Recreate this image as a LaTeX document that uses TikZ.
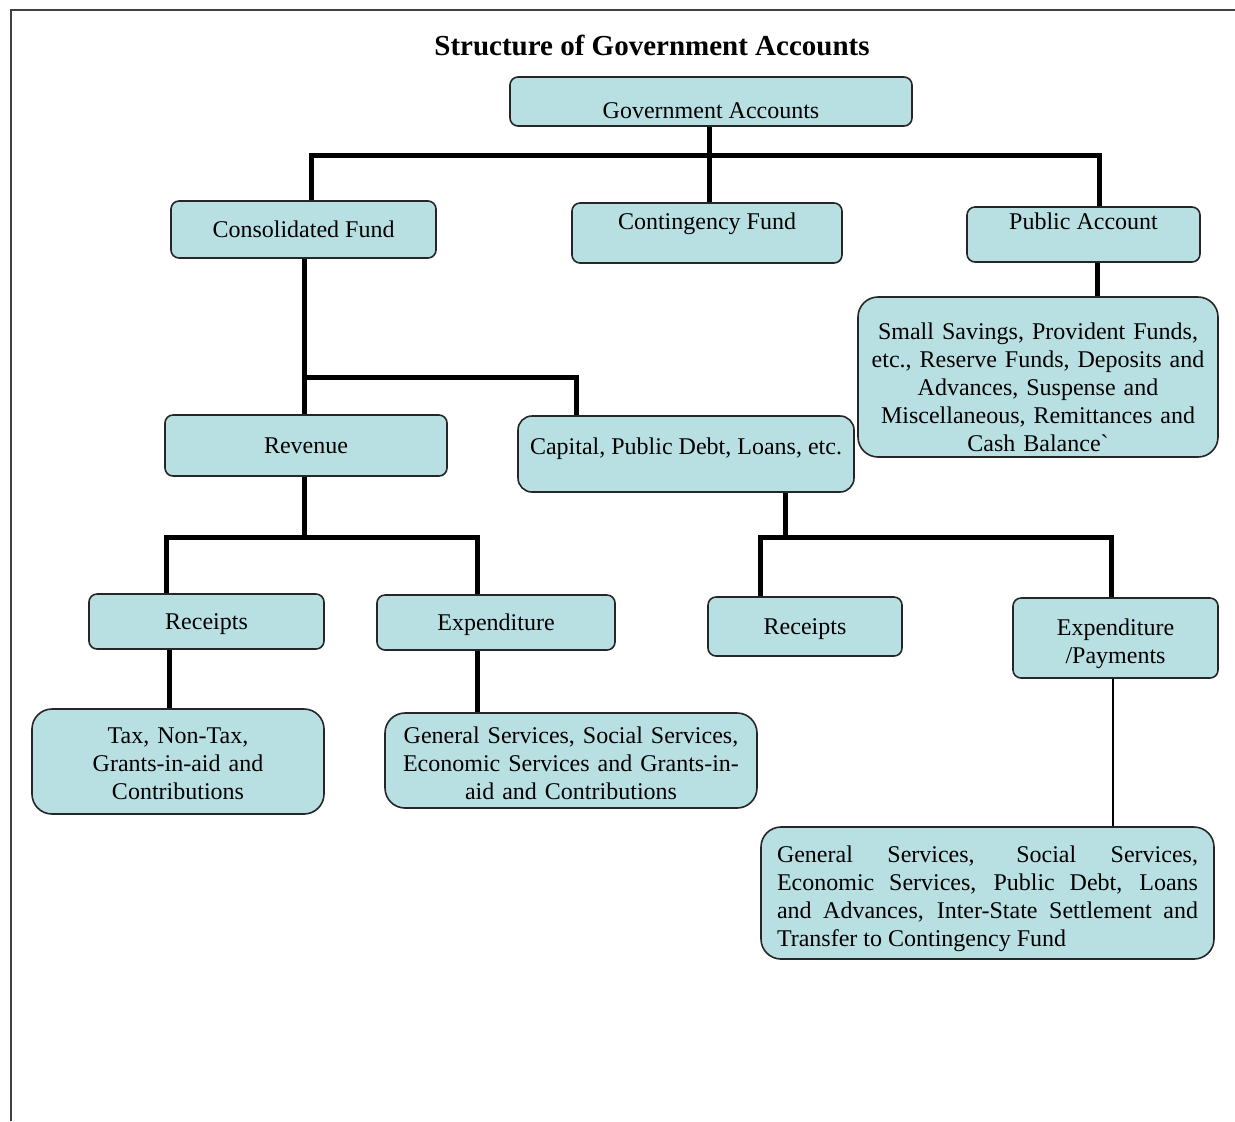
\documentclass[tikz,border=0pt]{standalone}
\usepackage{fontspec}
\setmainfont{Liberation Serif}
\usepackage{xcolor}
\definecolor{boxfill}{RGB}{184,223,226}

\begin{document}
\begin{tikzpicture}[x=0.5pt, y=-0.5pt,
  font=\fontsize{12}{14}\selectfont,
  box/.style={draw=black!85, line width=0.8pt, fill=boxfill, rounded corners=4pt, inner sep=0pt},
  one/.style={box, text height=8pt, text depth=0pt},
  big/.style={box, rounded corners=10pt},
  boxsize/.style 2 args={minimum width=#1*0.5pt, minimum height=#2*0.5pt},
  link/.style={line width=2.5pt, black},
  thinlink/.style={line width=0.6pt, black}]
\useasboundingbox (0,0) rectangle (1235,1121);
%%%%% Frame and title %%%%%
\draw[line width=1pt, black!75] (11,1121) -- (11,10) -- (1235,10);
\node[font=\bfseries\fontsize{14.5}{17}\selectfont] (title) at (652,45) {Structure of Government Accounts};
%%%%% Boxes %%%%%
\node[one, boxsize={402}{49}, text height=16.5pt] (gov) at (711,101.5) {Government Accounts};
\node[one, boxsize={265}{57}] (consol) at (303.5,229.5) {Consolidated Fund};
\node[one, boxsize={270}{60}, text height=2pt, text depth=6pt] (contin) at (707,233) {Contingency Fund};
\node[one, boxsize={233}{55}, text height=1.5pt, text depth=7pt] (pubacc) at (1083.5,234.5) {Public Account};
\node[big, boxsize={360}{160}, text width=172pt, align=center] (pubdet) at (1038,377)
  {\rule{0pt}{19pt}Small Savings, Provident Funds,\\ etc., Reserve Funds, Deposits and\\ Advances, Suspense and\\ Miscellaneous, Remittances and\\ Cash Balance\textasciigrave};
\node[one, boxsize={282}{61}] (revenue) at (306,445.5) {Revenue};
\node[one, boxsize={336}{76}, rounded corners=7pt, text height=5pt, text depth=5pt] (capital) at (686,454) {Capital, Public Debt, Loans, etc.};
\node[one, boxsize={235}{55}] (recL) at (206.5,621.5) {Receipts};
\node[one, boxsize={238}{55}] (expL) at (496,622.5) {Expenditure};
\node[one, boxsize={194}{59}] (recR) at (805,626.5) {Receipts};
\node[box, boxsize={205}{80}, align=center] (expR) at (1115.5,638) {\rule{0pt}{14.5pt}Expenditure\\ /Payments};
\node[big, boxsize={292}{105}, text width=125pt, align=center] (taxbox) at (178,761.5)
  {\rule{0pt}{10.5pt}Tax, Non-Tax,\\ Grants-in-aid and\\ Contributions};
\node[big, boxsize={372}{95}, text width=172pt, align=center] (genbox) at (571,760.5)
  {\rule{0pt}{11.5pt}General Services, Social Services,\\ Economic Services and Grants-in-\\ aid and Contributions};
\node[big, boxsize={453}{132}, text width=210.5pt, align=justify] (paybox) at (987.5,893)
  {\rule{0pt}{14pt}General Services, Social Services,\linebreak Economic Services, Public Debt, Loans\linebreak and Advances, Inter-State Settlement and\linebreak Transfer to Contingency Fund};
%%%%% Connectors %%%%%
\coordinate (gj) at (709,155);
\coordinate (cj) at (304,377);
\coordinate (rj) at (304,537);
\coordinate (kj) at (785,537);
\draw[link] (709,0 |- gov.south) -- (709,0 |- contin.north);
\draw[link] (311,0 |- consol.north) |- (gj) -| (1099,0 |- pubacc.north);
\draw[link] (1097,0 |- pubacc.south) -- (1097,0 |- pubdet.north);
\draw[link] (304,0 |- consol.south) -- (304,0 |- revenue.north);
\draw[link] (cj) -| (576,0 |- capital.north);
\draw[link] (304,0 |- revenue.south) -- (rj);
\draw[link] (166,0 |- recL.north) |- (rj) -| (477,0 |- expL.north);
\draw[link] (785,0 |- capital.south) -- (kj);
\draw[link] (760,0 |- recR.north) |- (kj) -| (1111,0 |- expR.north);
\draw[link] (169,0 |- recL.south) -- (169,0 |- taxbox.north);
\draw[link] (477,0 |- expL.south) -- (477,0 |- genbox.north);
\draw[thinlink] (1113,0 |- expR.south) -- (1113,0 |- paybox.north);
\end{tikzpicture}
\end{document}
